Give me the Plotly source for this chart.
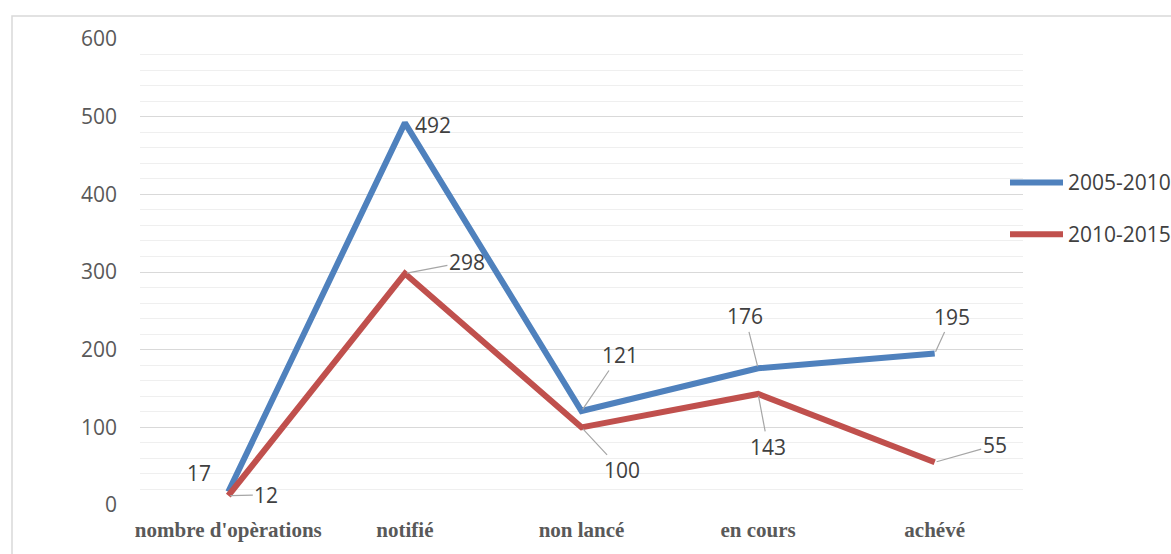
import plotly.graph_objects as go

categories = ["nombre d'opèrations", "notifié", "non lancé", "en cours", "achévé"]
series_names = ["2005-2010", "2010-2015"]
values_2005_2010 = [17, 492, 121, 176, 195]
values_2010_2015 = [12, 298, 100, 143, 55]
y_ticks = [0, 100, 200, 300, 400, 500, 600]

colors = ["#4F81BD", "#C0504D"]
label_font = dict(family="Open Sans, DejaVu Sans, sans-serif", size=21, color="#404040")

# label offsets (pixels) relative to each point: (dx, dy, leader line?)
offsets_a = [(-29, -19, False), (28, 2, False), (38, -56, True), (-13, -52, True), (17, -37, True)]
offsets_b = [(38, -1, True), (62, -12, True), (40, 43, True), (10, 53, True), (60, -17, True)]

W, H = 1171, 554
L, R, T, B = 140, 148, 39, 47

fig = go.Figure()
for name, vals, col in [(series_names[0], values_2005_2010, colors[0]),
                        (series_names[1], values_2010_2015, colors[1])]:
    fig.add_trace(go.Scatter(
        x=categories, y=vals, mode="lines", name=name,
        line=dict(color=col, width=6), cliponaxis=False, showlegend=False,
    ))

annotations = []
for vals, offs in [(values_2005_2010, offsets_a), (values_2010_2015, offsets_b)]:
    for cat, v, (dx, dy, lead) in zip(categories, vals, offs):
        a = dict(x=cat, y=v, text=str(v), font=label_font)
        if lead:
            a.update(showarrow=True, arrowhead=0, arrowwidth=1.2, arrowcolor="#A6A6A6",
                     ax=dx, ay=dy, standoff=2)
        else:
            a.update(showarrow=False, xshift=dx, yshift=-dy)
        annotations.append(a)

# legend drawn at right, partly past the figure edge
plot_w = W - L - R
plot_h = H - T - B
shapes = []
leg_rows = [183, 235]
for name, col, py in zip(series_names, colors, leg_rows):
    yp = (H - B - py) / plot_h
    shapes.append(dict(type="line", xref="paper", yref="paper",
                       x0=(1010 - L) / plot_w, x1=(1063 - L) / plot_w, y0=yp, y1=yp,
                       line=dict(color=col, width=6)))
    annotations.append(dict(xref="paper", yref="paper", x=(1066 - L) / plot_w, y=yp,
                            xanchor="left", yanchor="middle", showarrow=False, text=name,
                            font=label_font))

# chart frame
shapes.append(dict(type="rect", xref="paper", yref="paper",
                   x0=(12 - L) / plot_w, x1=1.3, y0=-0.3, y1=(H - B - 16) / plot_h,
                   line=dict(color="#D9D9D9", width=1.5), layer="below"))

fig.update_layout(
    width=W, height=H,
    margin=dict(l=L, r=R, t=T, b=B),
    paper_bgcolor="white", plot_bgcolor="white",
    showlegend=False,
    annotations=annotations,
    shapes=shapes,
    xaxis=dict(
        type="category", range=[-0.5, len(categories) - 0.5],
        showgrid=False, zeroline=False, showline=False,
        tickfont=dict(family="Liberation Serif, Times New Roman, serif", size=21, color="#595959"),
        ticks="", ticklabelstandoff=10,
    ),
    yaxis=dict(
        range=[0, 600], tickvals=y_ticks, showline=False, zeroline=False,
        gridcolor="#D9D9D9", gridwidth=1.2,
        minor=dict(dtick=20, showgrid=True, gridcolor="#EFEFEF", gridwidth=1.2),
        tickfont=label_font | dict(color="#595959"),
        ticks="", ticklabelstandoff=22,
    ),
)
fig.update_xaxes(tickprefix="<b>", ticksuffix="</b>")

fig.write_html("out.html")
